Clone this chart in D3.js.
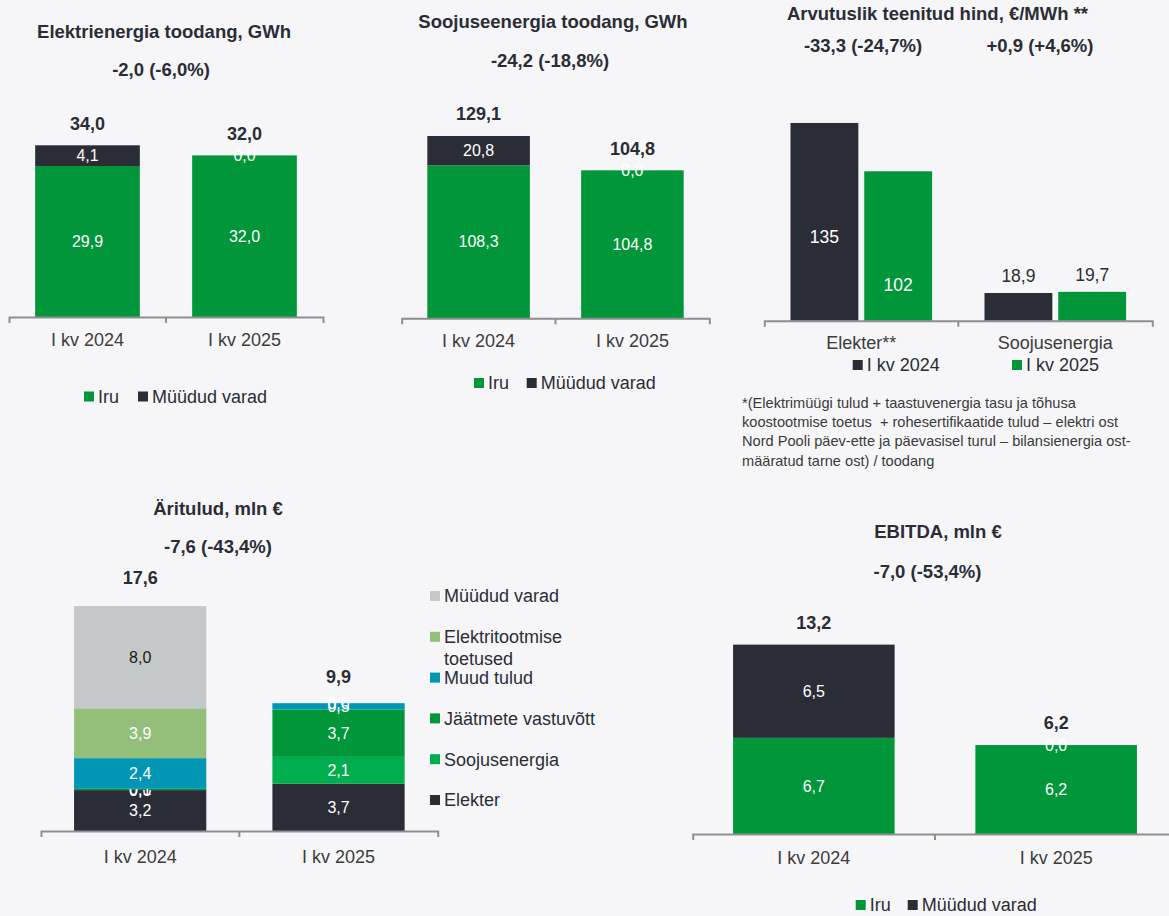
<!DOCTYPE html>
<html>
<head>
<meta charset="utf-8">
<script src="https://cdn.jsdelivr.net/npm/d3@7"></script>
<style>
  body { margin: 0; background: #f6f6f8; }
  svg { display: block; font-family: "Liberation Sans", Arial, sans-serif; }
</style>
</head>
<body>
<svg id="chart" width="1169" height="916"></svg>
<script>
const quarters = ["I kv 2024", "I kv 2025"];
const plantSeries = ["Iru", "Müüdud varad"];

// Elektrienergia toodang, GWh
const elecIru = [29.9, 32.0];
const elecSold = [4.1, 0.0];
const elecTotals = [34.0, 32.0];

// Soojuseenergia toodang, GWh
const heatIru = [108.3, 104.8];
const heatSold = [20.8, 0.0];
const heatTotals = [129.1, 104.8];

// Arvutuslik teenitud hind
const priceCats = ["Elekter**", "Soojusenergia"];
const price2024 = [135, 18.9];
const price2025 = [102, 19.7];

// Äritulud, mln € (bottom to top)
const revSeries = ["Elekter", "Soojusenergia", "Jäätmete vastuvõtt", "Muud tulud", "Elektritootmise toetused", "Müüdud varad"];
const rev2024 = [3.2, 0.0, 0.1, 2.4, 3.9, 8.0];
const rev2025 = [3.7, 2.1, 3.7, 0.5, 0.0, null];
const revTotals = [17.6, 9.9];

// EBITDA, mln €
const ebitdaIru = [6.7, 6.2];
const ebitdaSold = [6.5, 0.0];
const ebitdaTotals = [13.2, 6.2];

const footnoteLines = [
  "*(Elektrimüügi tulud + taastuvenergia tasu ja tõhusa",
  "koostootmise toetus  + rohesertifikaatide tulud – elektri ost",
  "Nord Pooli päev-ette ja päevasisel turul – bilansienergia ost-",
  "määratud tarne ost) / toodang"
];

const DARK = "#2b2d36";
const IRU = "#009639";
const axisColor = "#8f8f8f";
const labelColor = "#3c3c3c";

const revColors = ["#2b2d36", "#00ad4f", "#009639", "#0096b4", "#93bf7a", "#c4c8c8"];
const revLabelColors = ["#fff", "#fff", "#fff", "#fff", "#fff", "#1a1a1a"];

const locale = d3.formatLocale({ decimal: ",", thousands: " ", grouping: [3], currency: ["", "€"] });
const fmt1 = locale.format(".1f");
const fmt0 = locale.format(".0f");

const svg = d3.select("#chart");
svg.append("rect").attr("width", 1169).attr("height", 916).attr("fill", "#f6f6f8");

function boldText(x, y, txt, size) {
  svg.append("text")
    .attr("x", x).attr("y", y).attr("dy", "0.35em")
    .attr("text-anchor", "middle")
    .attr("font-weight", "bold")
    .attr("font-size", size || 18.5)
    .attr("fill", DARK)
    .text(txt);
}

function drawAxis(x, base, pad) {
  const ax = svg.append("g")
    .attr("transform", `translate(0,${base})`)
    .call(d3.axisBottom(x).tickSizeInner(0).tickSizeOuter(6).tickPadding(pad));
  ax.attr("font-family", null).attr("font-size", null);
  ax.select(".domain").attr("stroke", axisColor).attr("stroke-width", 2);
  ax.selectAll("text").attr("font-size", 18).attr("fill", labelColor);
  const r = x.range();
  ax.append("line")
    .attr("x1", (r[0] + r[1]) / 2).attr("x2", (r[0] + r[1]) / 2)
    .attr("y1", 0).attr("y2", 6)
    .attr("stroke", axisColor).attr("stroke-width", 2);
}

function legendRow(items, y) {
  const g = svg.append("g");
  items.forEach(it => {
    g.append("rect")
      .attr("x", it.x).attr("y", y - 5).attr("width", 10).attr("height", 10)
      .attr("fill", it.color);
    g.append("text")
      .attr("x", it.x + 14).attr("y", y).attr("dy", "0.35em")
      .attr("font-size", 18).attr("fill", DARK)
      .text(it.label);
  });
}

// stacked two-series chart (Iru + Müüdud varad)
function plantChart(opt) {
  const x = d3.scaleBand().domain(quarters)
    .range([opt.x0, opt.x1]).paddingInner(1 / 3).paddingOuter(1 / 6);
  const y = d3.scaleLinear().domain([0, opt.yMax]).range([opt.base, opt.top]);

  const rows = quarters.map((q, i) => ({ q, "Iru": opt.iru[i], "Müüdud varad": opt.sold[i] }));
  const stack = d3.stack().keys(plantSeries)(rows);
  const colors = [IRU, DARK];

  const layers = svg.append("g").selectAll("g")
    .data(stack).enter().append("g")
    .attr("fill", (d, i) => colors[i]);

  layers.selectAll("rect")
    .data(d => d).enter().append("rect")
    .attr("x", d => x(d.data.q))
    .attr("y", d => y(d[1]))
    .attr("width", x.bandwidth())
    .attr("height", d => y(d[0]) - y(d[1]));

  layers.selectAll("text")
    .data(d => d.map(p => ({ p, key: d.key }))).enter().append("text")
    .attr("x", d => x(d.p.data.q) + x.bandwidth() / 2)
    .attr("y", d => (y(d.p[0]) + y(d.p[1])) / 2)
    .attr("dy", "0.35em")
    .attr("text-anchor", "middle")
    .attr("font-size", 16)
    .attr("fill", "#fff")
    .text(d => fmt1(d.p.data[d.key]));

  opt.totals.forEach((t, i) => {
    boldText(x(quarters[i]) + x.bandwidth() / 2, y(t) - 22, fmt1(t), 18);
  });

  drawAxis(x, opt.base, opt.pad);
  boldText(opt.titleX, opt.titleY, opt.title);
  boldText(opt.subX, opt.subY, opt.sub);
  legendRow([
    { label: plantSeries[0], color: IRU, x: opt.legX[0] },
    { label: plantSeries[1], color: DARK, x: opt.legX[1] }
  ], opt.legY);
}

plantChart({
  x0: 9, x1: 323, base: 317, top: 115, yMax: 40,
  iru: elecIru, sold: elecSold, totals: elecTotals, pad: 16,
  title: "Elektrienergia toodang, GWh", titleX: 164, titleY: 32,
  sub: "-2,0 (-6,0%)", subX: 161, subY: 70,
  legX: [84, 138], legY: 396.5
});

plantChart({
  x0: 401.7, x1: 709.3, base: 318.3, top: 120.6, yMax: 140,
  iru: heatIru, sold: heatSold, totals: heatTotals, pad: 16,
  title: "Soojuseenergia toodang, GWh", titleX: 553, titleY: 22,
  sub: "-24,2 (-18,8%)", subX: 550, subY: 61,
  legX: [474, 526.7], legY: 383
});

plantChart({
  x0: 692.7, x1: 1177.3, base: 834, top: 618.8, yMax: 15,
  iru: ebitdaIru, sold: ebitdaSold, totals: ebitdaTotals, pad: 17,
  title: "EBITDA, mln €", titleX: 938, titleY: 532,
  sub: "-7,0 (-53,4%)", subX: 927.5, subY: 572,
  legX: [855.7, 907.7], legY: 905
});

// grouped price chart
(function priceChart() {
  const base = 320.7;
  const x0 = d3.scaleBand().domain(priceCats).range([764.3, 1152.3]).paddingInner(0.27).paddingOuter(0.135);
  const x1 = d3.scaleBand().domain(quarters).range([0, x0.bandwidth()]).paddingInner(0.08);
  const y = d3.scaleLinear().domain([0, 150]).range([base, 101]);
  const colors = [DARK, IRU];

  const rows = priceCats.map((c, i) => ({ c, vals: [price2024[i], price2025[i]] }));
  const groups = svg.append("g").selectAll("g")
    .data(rows).enter().append("g")
    .attr("transform", d => `translate(${x0(d.c)},0)`);

  groups.selectAll("rect")
    .data(d => d.vals.map((v, j) => ({ v, q: quarters[j], j }))).enter().append("rect")
    .attr("x", d => x1(d.q))
    .attr("y", d => y(d.v))
    .attr("width", x1.bandwidth())
    .attr("height", d => base - y(d.v))
    .attr("fill", d => colors[d.j]);

  groups.selectAll("text")
    .data(d => d.vals.map((v, j) => ({ v, q: quarters[j], j }))).enter().append("text")
    .attr("x", d => x1(d.q) + x1.bandwidth() / 2)
    .attr("y", d => base - y(d.v) > 60 ? y(d.v) + 114 : y(d.v) - 17)
    .attr("dy", "0.35em")
    .attr("text-anchor", "middle")
    .attr("font-size", 17.5)
    .attr("fill", d => base - y(d.v) > 60 ? "#fff" : DARK)
    .text(d => d.v >= 100 ? fmt0(d.v) : fmt1(d.v));

  drawAxis(x0, base, 16);
  boldText(937.5, 14, "Arvutuslik teenitud hind, €/MWh **");
  boldText(863, 46, "-33,3 (-24,7%)");
  boldText(1040, 46, "+0,9 (+4,6%)");
  legendRow([
    { label: quarters[0], color: DARK, x: 852.7 },
    { label: quarters[1], color: IRU, x: 1012 }
  ], 365);

  svg.append("g").selectAll("text")
    .data(footnoteLines).enter().append("text")
    .attr("x", 742)
    .attr("y", (d, i) => 402.5 + i * 19.4)
    .attr("dy", "0.35em")
    .attr("font-size", 14.6)
    .attr("fill", "#3a3a3a")
    .style("white-space", "pre")
    .text(d => d);
})();

// revenue stacked chart
(function revenueChart() {
  const base = 831;
  const x = d3.scaleBand().domain(quarters).range([41, 437.7]).paddingInner(1 / 3).paddingOuter(1 / 6);
  const y = d3.scaleLinear().domain([0, 20]).range([base, base - 20 * 12.78]);

  const rows = quarters.map((q, i) => {
    const r = { q };
    revSeries.forEach((s, k) => { r[s] = (i === 0 ? rev2024 : rev2025)[k]; });
    return r;
  });
  const stack = d3.stack().keys(revSeries).value((d, key) => d[key] || 0)(rows);

  const layers = svg.append("g").selectAll("g")
    .data(stack).enter().append("g")
    .attr("fill", (d, i) => revColors[i]);

  layers.selectAll("rect")
    .data(d => d).enter().append("rect")
    .attr("x", d => x(d.data.q))
    .attr("y", d => y(d[1]))
    .attr("width", x.bandwidth())
    .attr("height", d => y(d[0]) - y(d[1]));

  layers.selectAll("text")
    .data((d, i) => d.filter(p => p.data[d.key] != null).map(p => ({ p, key: d.key, i }))).enter().append("text")
    .attr("x", d => x(d.p.data.q) + x.bandwidth() / 2)
    .attr("y", d => (y(d.p[0]) + y(d.p[1])) / 2)
    .attr("dy", "0.35em")
    .attr("text-anchor", "middle")
    .attr("font-size", 16)
    .attr("fill", d => revLabelColors[d.i])
    .text(d => fmt1(d.p.data[d.key]));

  revTotals.forEach((t, i) => {
    boldText(x(quarters[i]) + x.bandwidth() / 2, y(t) - 28, fmt1(t), 18);
  });

  drawAxis(x, base, 19.5);
  boldText(218, 509, "Äritulud, mln €");
  boldText(218, 547, "-7,6 (-43,4%)");

  // legend, top to bottom
  const legend = svg.append("g");
  revSeries.slice().reverse().forEach((s, i) => {
    const k = revSeries.length - 1 - i;
    const cy = 596 + i * 40.8;
    legend.append("rect")
      .attr("x", 430).attr("y", cy - 5).attr("width", 10).attr("height", 10)
      .attr("fill", revColors[k]);
    const words = s === "Elektritootmise toetused" ? ["Elektritootmise", "toetused"] : [s];
    words.forEach((w, j) => {
      legend.append("text")
        .attr("x", 444).attr("y", cy + j * 21.5).attr("dy", "0.35em")
        .attr("font-size", 18).attr("fill", DARK)
        .text(w);
    });
  });
})();
</script>
</body>
</html>
